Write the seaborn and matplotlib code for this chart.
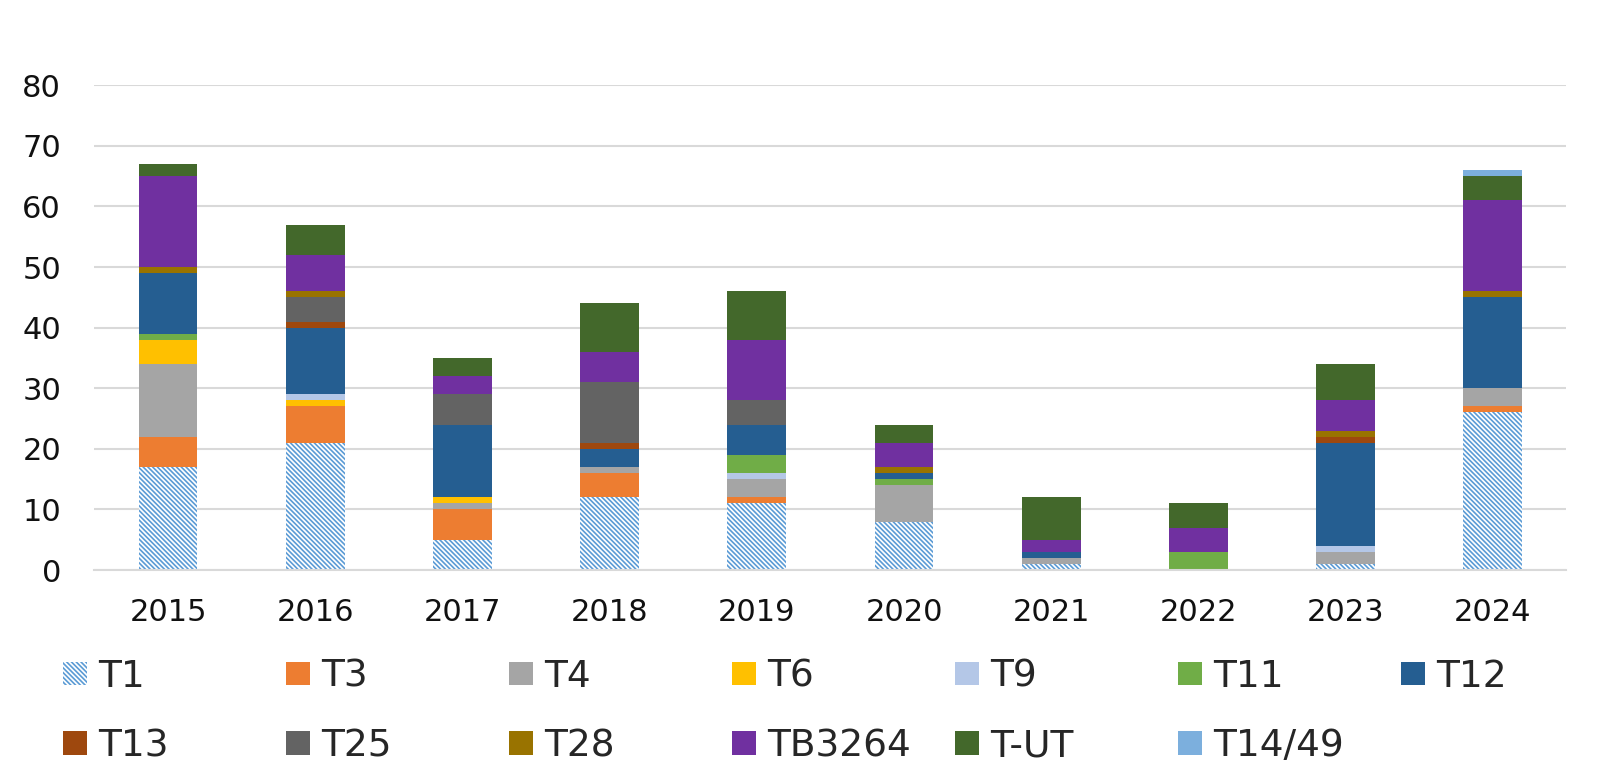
import matplotlib
matplotlib.use("Agg")
import matplotlib.pyplot as plt
import seaborn as sns

# Data
years = ["2015", "2016", "2017", "2018", "2019", "2020", "2021", "2022", "2023", "2024"]
series_names = ["T1", "T3", "T4", "T6", "T9", "T11", "T12",
                "T13", "T25", "T28", "TB3264", "T-UT", "T14/49"]

t1     = [17, 21, 5, 12, 11, 8, 1, 0, 1, 26]
t3     = [5, 6, 5, 4, 1, 0, 0, 0, 0, 1]
t4     = [12, 0, 1, 1, 3, 6, 1, 0, 2, 3]
t6     = [4, 1, 1, 0, 0, 0, 0, 0, 0, 0]
t9     = [0, 1, 0, 0, 1, 0, 0, 0, 1, 0]
t11    = [1, 0, 0, 0, 3, 1, 0, 3, 0, 0]
t12    = [10, 11, 12, 3, 5, 1, 1, 0, 17, 15]
t13    = [0, 1, 0, 1, 0, 0, 0, 0, 1, 0]
t25    = [0, 4, 5, 10, 4, 0, 0, 0, 0, 0]
t28    = [1, 1, 0, 0, 0, 1, 0, 0, 1, 1]
tb3264 = [15, 6, 3, 5, 10, 4, 2, 4, 5, 15]
t_ut   = [2, 5, 3, 8, 8, 3, 7, 4, 6, 4]
t14_49 = [0, 0, 0, 0, 0, 0, 0, 0, 0, 1]

series_values = [t1, t3, t4, t6, t9, t11, t12, t13, t25, t28, tb3264, t_ut, t14_49]
colors = ["#5B9BD5", "#ED7D31", "#A5A5A5", "#FFC000", "#B4C7E7", "#70AD47", "#255E91",
          "#9E480E", "#636363", "#997300", "#7030A0", "#43682B", "#7CAFDD"]

sns.set_style("white")
plt.rcParams["font.family"] = ["DejaVu Sans"]
plt.rcParams["hatch.linewidth"] = 1.2

fig = plt.figure(figsize=(16, 7.75), dpi=100)
ax = fig.add_axes([0.059, 0.2645, 0.92, 0.6255])

bottom = [0] * len(years)
handles = []
for i, (name, vals, col) in enumerate(zip(series_names, series_values, colors)):
    n_before = len(ax.containers)
    if i == 0:
        # T1 drawn as a fine diagonal pattern
        sns.barplot(x=years, y=vals, bottom=bottom, color="white", edgecolor=col,
                    hatch="\\" * 7, width=0.4, saturation=1, linewidth=0,
                    errorbar=None, ax=ax)
    else:
        sns.barplot(x=years, y=vals, bottom=bottom, color=col, width=0.4,
                    saturation=1, linewidth=0, errorbar=None, ax=ax)
    handles.append(ax.containers[n_before])
    bottom = [b + v for b, v in zip(bottom, vals)]

ax.set_ylim(0, 80)
ax.set_yticks(range(0, 81, 10))
ax.set_xlim(-0.5, len(years) - 0.5)
ax.yaxis.grid(True, color="#D9D9D9", linewidth=1.5)
ax.set_axisbelow(True)
for s in ["top", "right", "left"]:
    ax.spines[s].set_visible(False)
ax.spines["bottom"].set_color("#D9D9D9")
ax.spines["bottom"].set_linewidth(1.5)
ax.tick_params(axis="y", length=0, pad=24, labelsize=22, labelcolor="#111111")
ax.tick_params(axis="x", length=0, pad=20, labelsize=22, labelcolor="#111111")
ax.set_xlabel("")
ax.set_ylabel("")

# legend laid out as an evenly spaced 7 x 2 grid
ncol = 7
for c in range(ncol):
    idx = [i for i in (c, c + ncol) if i < len(series_names)]
    fig.legend([handles[i] for i in idx], [series_names[i] for i in idx],
               loc="upper left", bbox_to_anchor=(0.0394 + 0.1394 * c, 0.150),
               frameon=False, fontsize=27, handlelength=0.64, handleheight=0.6,
               handletextpad=0.3, labelspacing=0.9, borderpad=0, borderaxespad=0)

fig.savefig("out.png", dpi=100)
